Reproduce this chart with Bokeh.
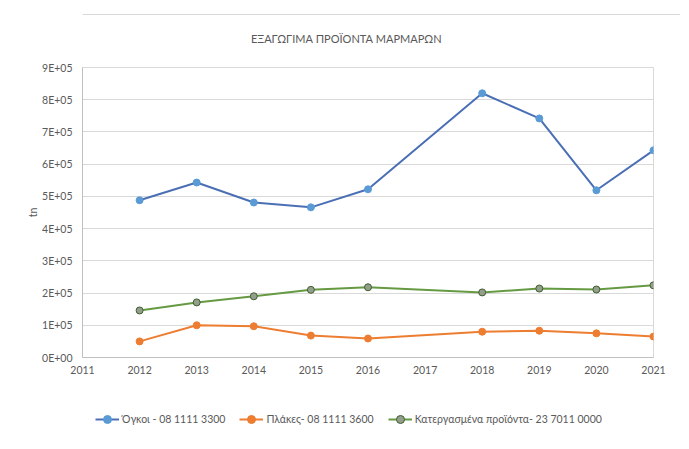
from bokeh.plotting import figure
from bokeh.layouts import column
from bokeh.models import (Range1d, SingleIntervalTicker, CustomJSTickFormatter,
                          Legend, LegendItem, Label, Span)
from bokeh.embed import file_html
from bokeh.resources import INLINE

title_text = "ΕΞΑΓΩΓΙΜΑ ΠΡΟΪΟΝΤΑ ΜΑΡΜΑΡΩΝ"
y_label = "tn"
years = [2012, 2013, 2014, 2015, 2016, 2018, 2019, 2020, 2021]
ogkoi = [488000, 543000, 481000, 466000, 522000, 820000, 742000, 519000, 643000]
plakes = [50000, 100000, 97000, 68000, 59000, 80000, 83000, 75000, 65000]
katerg = [146000, 171000, 190000, 210000, 218000, 202000, 214000, 211000, 224000]
names = ["Όγκοι - 08 1111 3300", "Πλάκες- 08 1111 3600",
         "Κατεργασμένα προϊόντα- 23 7011 0000"]

FONT = "Lato"
TXT = "#595959"

# title strip
tt = figure(frame_width=680, frame_height=50, output_backend="svg",
            toolbar_location=None, min_border=0,
            x_range=Range1d(0, 1), y_range=Range1d(0, 1))
tt.axis.visible = False
tt.grid.grid_line_color = None
tt.outline_line_color = None
tt.add_layout(Span(location=0.72, dimension="width", line_color="#d9d9d9",
                   line_width=1))
tt.add_layout(Label(x=0.388, y=0.24, text=title_text, text_align="center",
                    text_baseline="middle", text_font=FONT,
                    text_font_size="11px", text_color=TXT))

p = figure(frame_width=571, frame_height=290, output_backend="svg",
           toolbar_location=None, min_border_left=82, min_border_right=27,
           min_border_top=17, min_border_bottom=30,
           x_range=Range1d(2011, 2021), y_range=Range1d(0, 900000))

p.outline_line_color = "#d9d9d9"
p.xgrid.grid_line_color = None
p.ygrid.grid_line_color = "#d9d9d9"
p.ygrid.grid_line_width = 1

p.xaxis.ticker = SingleIntervalTicker(interval=1)
p.yaxis.ticker = SingleIntervalTicker(interval=100000)
p.yaxis.formatter = CustomJSTickFormatter(code="""
if (tick == 0) { return "0E+00"; }
return (tick/100000).toFixed(0) + "E+05";
""")
for ax in (p.xaxis[0], p.yaxis[0]):
    ax.axis_line_color = "#bfbfbf"
    ax.major_tick_line_color = None
    ax.minor_tick_line_color = None
    ax.major_label_text_font = FONT
    ax.major_label_text_font_size = "10.5px"
    ax.major_label_text_color = TXT
p.xaxis.major_label_standoff = 2
p.yaxis.major_label_standoff = 4
p.yaxis.axis_label = y_label
p.yaxis.axis_label_text_font = FONT
p.yaxis.axis_label_text_font_size = "10.5px"
p.yaxis.axis_label_text_font_style = "normal"
p.yaxis.axis_label_text_color = TXT
p.yaxis.axis_label_standoff = 0

series = [
    (ogkoi, "#4a6fb5", "#5b9bd5", "#5b9bd5"),
    (plakes, "#ed7d31", "#ed7d31", "#ed7d31"),
    (katerg, "#669a42", "#949e8c", "#3f5f2c"),
]

# legend strip: a second figure whose ranges leave the data out of view,
# so only its legend shows
lg = figure(frame_width=680, frame_height=55, output_backend="svg",
            toolbar_location=None, min_border=0,
            x_range=Range1d(0, 1), y_range=Range1d(0, 1))
lg.axis.visible = False
lg.grid.grid_line_color = None
lg.outline_line_color = None

items = []
for (vals, lc, mf, ml), name in zip(series, names):
    p.line(years, vals, line_color=lc, line_width=2)
    p.scatter(years, vals, size=7, fill_color=mf, line_color=ml, line_width=1)
    l = lg.line(years, vals, line_color=lc, line_width=2)
    c = lg.scatter(years, vals, size=7, fill_color=mf, line_color=ml, line_width=1)
    items.append(LegendItem(label=name, renderers=[l, c]))

legend = Legend(items=items, orientation="horizontal", location=(95, 13),
                label_text_font=FONT, label_text_font_size="10.5px",
                label_text_color=TXT, glyph_width=24, spacing=14,
                border_line_color=None, background_fill_alpha=0,
                margin=0, padding=2, label_standoff=3)
lg.add_layout(legend, "center")

layout = column(tt, p, lg, spacing=0)
open("out.html", "w").write(file_html(layout, INLINE))
